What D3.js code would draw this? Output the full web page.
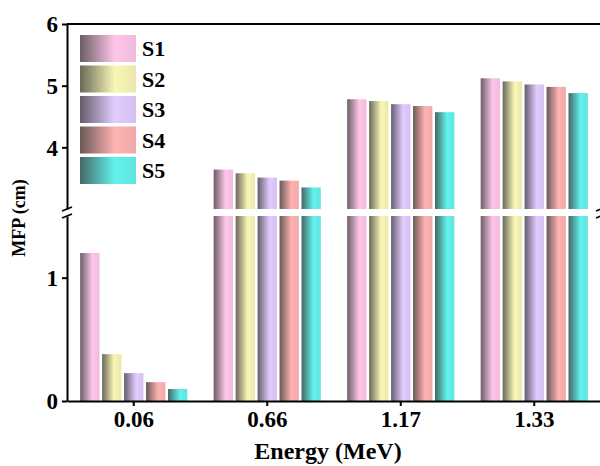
<!DOCTYPE html>
<html>
<head>
<meta charset="utf-8">
<script src="https://cdn.jsdelivr.net/npm/d3@7"></script>
<style>
  body { margin: 0; background: #fff; }
  svg { display: block; }
  text { font-family: "Liberation Serif", "Times New Roman", serif; font-weight: bold; fill: #000; }
</style>
</head>
<body>
<svg id="chart" width="600" height="466"></svg>
<script>
// data
const categories = ['0.06', '0.66', '1.17', '1.33'];
const seriesNames = ['S1', 'S2', 'S3', 'S4', 'S5'];
const s1 = [1.20, 3.64, 4.78, 5.12];
const s2 = [0.38, 3.58, 4.75, 5.07];
const s3 = [0.226, 3.51, 4.70, 5.02];
const s4 = [0.153, 3.46, 4.67, 4.98];
const s5 = [0.097, 3.35, 4.57, 4.88];
const colors = ['#ffc6ea', '#f9f6b6', '#e3cbff', '#ffb3b3', '#62f2ee'];
const lowTicks = [0, 1];
const highTicks = [4, 5, 6];

const series = [s1, s2, s3, s4, s5];

const left = 67, right = 601;
const svg = d3.select('#chart');

const x = d3.scaleBand().domain(categories).range([left, right]).paddingInner(0).paddingOuter(0);
const xs = d3.scaleBand().domain(seriesNames).range([0, x.bandwidth()]).paddingInner(0.12).paddingOuter(0.6);

// broken y axis: two segments
const yLow = d3.scaleLinear().domain([0, 1.5]).range([401, 216]);
const yHigh = d3.scaleLinear().domain([3, 6]).range([209, 24]);

// gradients
const defs = svg.append('defs');
colors.forEach((c, i) => {
  const g = defs.append('linearGradient').attr('id', 'grad' + i)
    .attr('x1', '0%').attr('x2', '100%').attr('y1', '0%').attr('y2', '0%');
  g.append('stop').attr('offset', '0%').attr('stop-color', d3.interpolateRgb(c, '#3a3a3a')(0.75));
  g.append('stop').attr('offset', '62%').attr('stop-color', c);
  g.append('stop').attr('offset', '100%').attr('stop-color', d3.interpolateRgb(c, '#3a3a3a')(0.08));
});

// bars
const bars = [];
categories.forEach((cat, ci) => {
  series.forEach((s, si) => bars.push({ cat, name: seriesNames[si], si, v: s[ci] }));
});

const gb = svg.append('g');
gb.selectAll('rect.low').data(bars).join('rect')
  .attr('class', 'low')
  .attr('x', d => x(d.cat) + xs(d.name))
  .attr('width', xs.bandwidth())
  .attr('y', d => yLow(Math.min(d.v, 1.5)))
  .attr('height', d => yLow(0) - yLow(Math.min(d.v, 1.5)))
  .attr('fill', d => `url(#grad${d.si})`);

gb.selectAll('rect.high').data(bars.filter(d => d.v > 3)).join('rect')
  .attr('class', 'high')
  .attr('x', d => x(d.cat) + xs(d.name))
  .attr('width', xs.bandwidth())
  .attr('y', d => yHigh(d.v))
  .attr('height', d => yHigh(3) - yHigh(d.v))
  .attr('fill', d => `url(#grad${d.si})`);

// axes
const fontSize = '23px';
const yAxisLow = svg.append('g').attr('transform', `translate(${left},0)`)
  .call(d3.axisLeft(yLow).tickValues(lowTicks).tickFormat(d3.format('d')).tickSize(5).tickSizeOuter(0));
const yAxisHigh = svg.append('g').attr('transform', `translate(${left},0)`)
  .call(d3.axisLeft(yHigh).tickValues(highTicks).tickFormat(d3.format('d')).tickSize(5).tickSizeOuter(0));
const xAxis = svg.append('g').attr('transform', `translate(0,${yLow(0)})`)
  .call(d3.axisBottom(x).tickSize(5).tickSizeOuter(0));

[yAxisLow, yAxisHigh, xAxis].forEach(a => {
  a.selectAll('.domain').attr('stroke', '#000').attr('stroke-width', 2);
  a.selectAll('.tick line').attr('stroke', '#000').attr('stroke-width', 2);
  a.selectAll('.tick text').style('font-size', fontSize)
    .style('font-family', '"Liberation Serif", serif').style('font-weight', 'bold');
});
[yAxisLow, yAxisHigh].forEach(a => a.selectAll('.tick text').attr('x', -9).attr('dy', '0.34em'));
xAxis.selectAll('.tick text').attr('y', 10);

// right and top frame
svg.append('line').attr('x1', left).attr('x2', 600).attr('y1', yHigh(6)).attr('y2', yHigh(6))
  .attr('stroke', '#000').attr('stroke-width', 2);
[[yHigh(6), yHigh(3)], [yLow(1.5), yLow(0)]].forEach(([a, b]) => {
  svg.append('line').attr('x1', right).attr('x2', right).attr('y1', a).attr('y2', b)
    .attr('stroke', '#000').attr('stroke-width', 2);
});

// break marks
[left, right].forEach(bx => {
  [yHigh(3), yLow(1.5)].forEach(by => {
    svg.append('line').attr('x1', bx - 5).attr('x2', bx + 5).attr('y1', by + 2).attr('y2', by - 2)
      .attr('stroke', '#000').attr('stroke-width', 1.6);
  });
});

// legend
const lg = svg.append('g');
seriesNames.forEach((n, i) => {
  const ly = 35 + i * 30.5;
  lg.append('rect').attr('x', 80).attr('y', ly).attr('width', 56).attr('height', 27)
    .attr('fill', `url(#grad${i})`);
  lg.append('text').attr('x', 142).attr('y', ly + 13.5).attr('dy', '0.35em')
    .style('font-size', '22px').text(n);
});

// titles
svg.append('text').attr('x', (left + right) / 2 - 6).attr('y', 459).attr('text-anchor', 'middle')
  .style('font-size', '24px').text('Energy (MeV)');
svg.append('text').attr('transform', `translate(25,218) rotate(-90)`).attr('text-anchor', 'middle')
  .style('font-size', '18px').text('MFP (cm)');
</script>
</body>
</html>
